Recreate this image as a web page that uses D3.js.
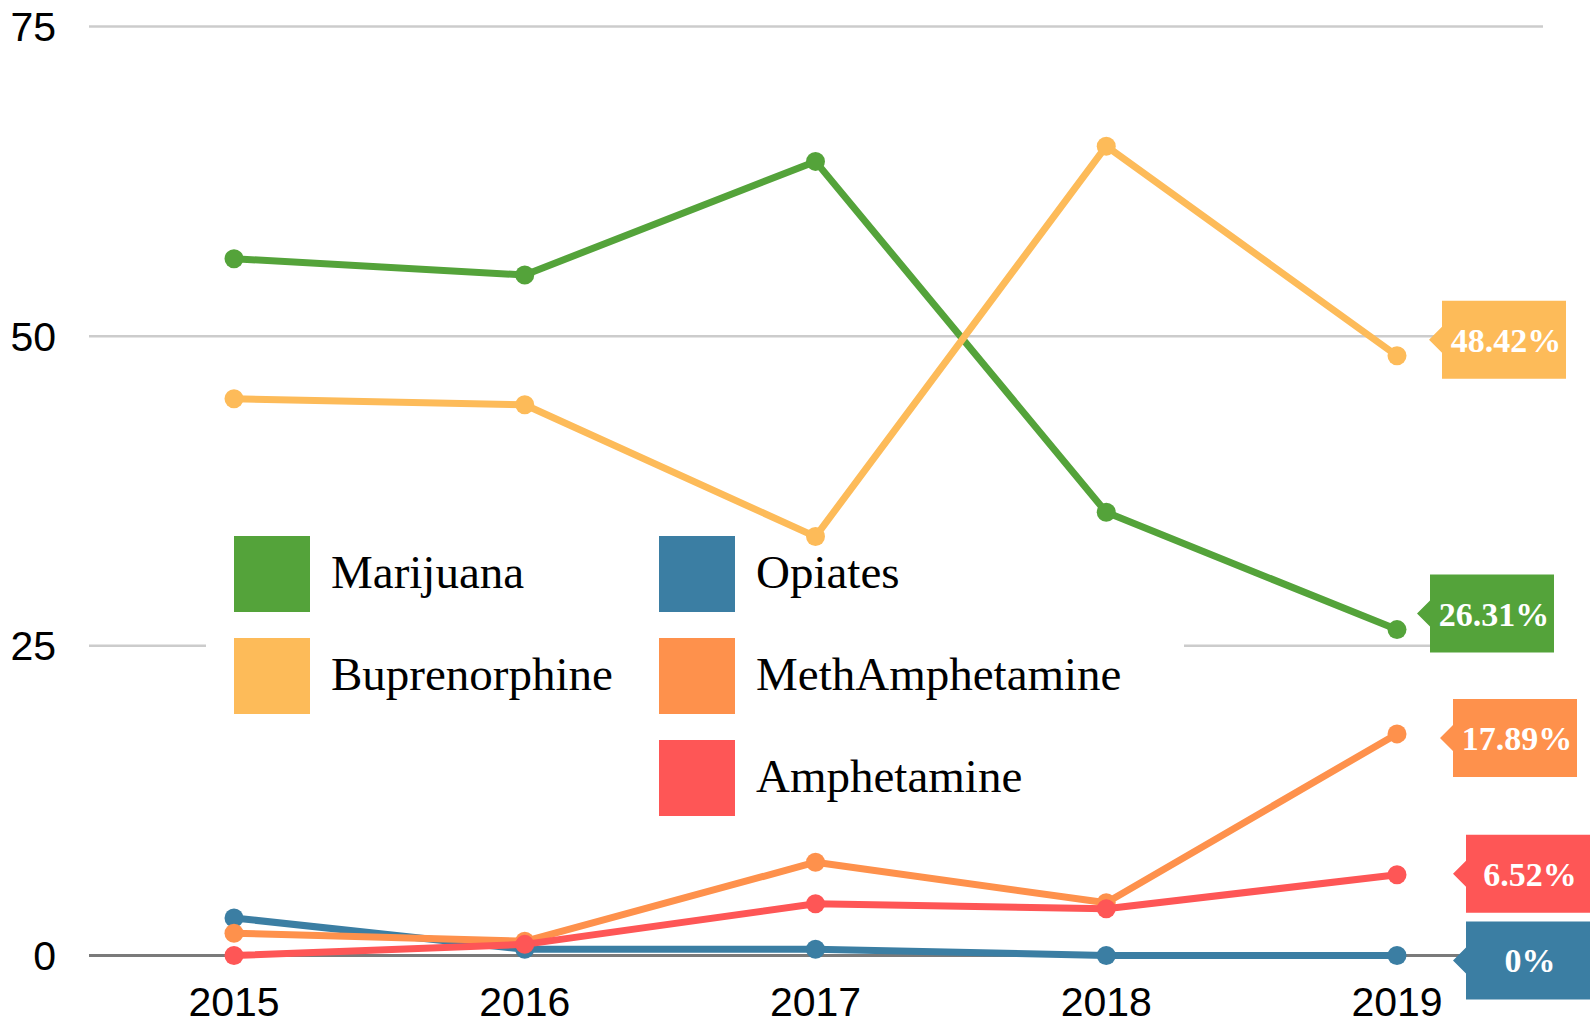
<!DOCTYPE html>
<html>
<head>
<meta charset="utf-8">
<script src="https://cdn.jsdelivr.net/npm/d3@7"></script>
<style>
  html, body { margin: 0; padding: 0; background: #fff; overflow: hidden; }
</style>
</head>
<body>
<div id="chart"></div>
<script>
const years = [2015, 2016, 2017, 2018, 2019];
const yTicks = [0, 25, 50, 75];
const seriesNames = ['Marijuana', 'Buprenorphine', 'Opiates', 'MethAmphetamine', 'Amphetamine'];
const seriesColors = ['#54a33a', '#fdbb59', '#3b7ea3', '#fe914c', '#fe5656'];
const marijuana = [56.25, 54.94, 64.11, 35.78, 26.31];
const buprenorphine = [44.95, 44.46, 33.82, 65.34, 48.42];
const opiates = [3.03, 0.5, 0.5, 0, 0];
const methAmphetamine = [1.8, 1.15, 7.53, 4.26, 17.89];
const amphetamine = [0, 0.9, 4.18, 3.77, 6.52];
const lastLabels = ['26.31%', '48.42%', '0%', '17.89%', '6.52%'];

const W = 1590, H = 1022;
const values = [marijuana, buprenorphine, opiates, methAmphetamine, amphetamine];
const series = seriesNames.map((name, i) => ({
  name, color: seriesColors[i], label: lastLabels[i],
  points: years.map((yr, j) => ({ year: yr, value: values[i][j] }))
}));

// where the end labels sit relative to their last point (avoid overlaps)
const labelShift = {
  Marijuana: { dx: 20, dy: -16 },
  Buprenorphine: { dx: 32, dy: -16 },
  Opiates: { dx: 56, dy: 5 },
  MethAmphetamine: { dx: 43, dy: 4 },
  Amphetamine: { dx: 56, dy: -1 }
};

const svg = d3.select('#chart').append('svg').attr('width', W).attr('height', H);

const x = d3.scaleLinear().domain([2015, 2019]).range([234, 1397]);
const y = d3.scaleLinear().domain([0, 75]).range([955.5, 26.5]);

// grid
svg.selectAll('.grid').data(yTicks).join('line')
  .attr('x1', 89).attr('x2', 1543)
  .attr('y1', d => y(d)).attr('y2', d => y(d))
  .attr('stroke', d => d === 0 ? '#7a7a7a' : '#cccccc')
  .attr('stroke-width', d => d === 0 ? 3 : 2.5);

svg.selectAll('.y-label').data(yTicks).join('text')
  .attr('x', 56).attr('y', d => y(d)).attr('dy', '0.35em')
  .attr('text-anchor', 'end').attr('font-family', 'Liberation Sans, Arial, sans-serif')
  .attr('font-size', '41px').attr('fill', '#000')
  .text(d => d);

svg.selectAll('.x-label').data(years).join('text')
  .attr('x', d => x(d)).attr('y', 1016)
  .attr('text-anchor', 'middle').attr('font-family', 'Liberation Sans, Arial, sans-serif')
  .attr('font-size', '41px').attr('fill', '#000')
  .text(d => d);

// legend
const legend = svg.append('g');
legend.append('rect').attr('x', 206).attr('y', 522).attr('width', 978).attr('height', 316).attr('fill', '#fff');
const legendPos = [[0, 0], [0, 1], [1, 0], [1, 1], [1, 2]];
const lg = legend.selectAll('.item').data(series).join('g')
  .attr('transform', (d, i) => `translate(${234 + legendPos[i][0] * 425},${536 + legendPos[i][1] * 102})`);
lg.append('rect').attr('width', 76).attr('height', 76).attr('fill', d => d.color);
lg.append('text').attr('x', 97).attr('y', 52)
  .attr('font-family', 'Liberation Serif, Times New Roman, serif').attr('font-size', '47px')
  .attr('fill', '#000').text(d => d.name);

// lines
const line = d3.line().x(d => x(d.year)).y(d => y(d.value));
const sg = svg.selectAll('.series').data(series).join('g');
sg.append('path').attr('d', d => line(d.points))
  .attr('fill', 'none').attr('stroke', d => d.color).attr('stroke-width', 7)
  .attr('stroke-linejoin', 'round');
sg.selectAll('circle').data(d => d.points.map(p => ({ ...p, color: d.color }))).join('circle')
  .attr('cx', d => x(d.year)).attr('cy', d => y(d.value)).attr('r', 9.5)
  .attr('fill', d => d.color);

// end labels
const bw = 124, bh = 78, tip = 13;
const lab = svg.selectAll('.end-label').data(series).join('g')
  .attr('transform', d => {
    const last = d.points[d.points.length - 1];
    const s = labelShift[d.name];
    return `translate(${x(last.year) + s.dx},${y(last.value) + s.dy})`;
  });
lab.append('path')
  .attr('d', `M${tip},${-bh / 2}H${tip + bw}V${bh / 2}H${tip}V${tip}L0,0L${tip},${-tip}Z`)
  .attr('fill', d => d.color);
lab.append('text').attr('x', tip + bw / 2 + 2).attr('y', 0).attr('dy', '0.35em')
  .attr('text-anchor', 'middle').attr('fill', '#fff')
  .attr('font-family', 'Liberation Serif, Times New Roman, serif').attr('font-weight', 'bold')
  .attr('font-size', '34px').text(d => d.label);
</script>
</body>
</html>
